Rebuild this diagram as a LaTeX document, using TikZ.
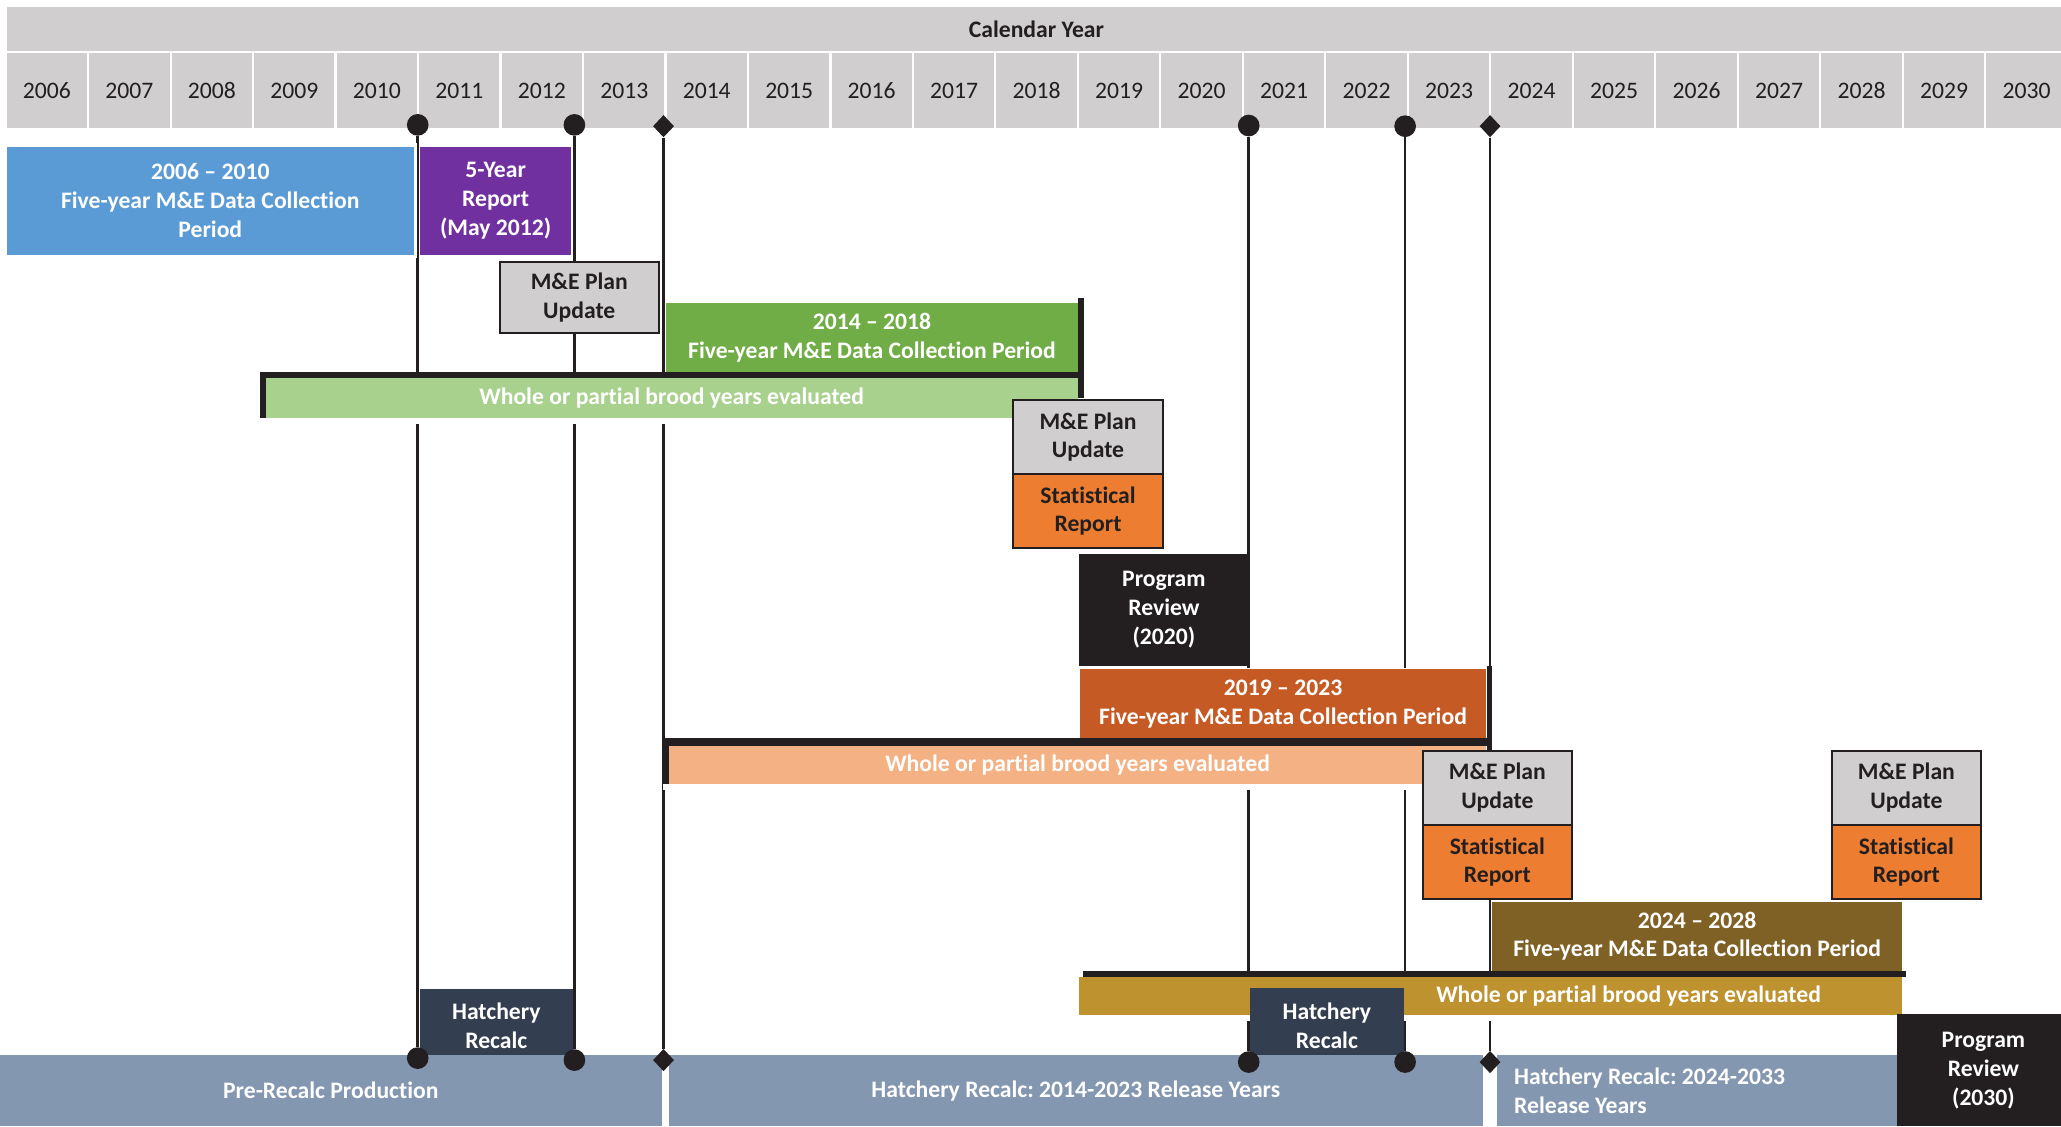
\documentclass[tikz,border=0pt]{standalone}
\usepackage{fontspec}
\setmainfont{Carlito}[Ligatures={TeX,NoCommon}]
\usetikzlibrary{shapes.geometric}
\pgfdeclarelayer{bg}\pgfdeclarelayer{fg}\pgfsetlayers{bg,main,fg}
\definecolor{ink}{HTML}{231F20}
\definecolor{hdr}{HTML}{D0CECE}
\definecolor{cblue}{HTML}{5B9BD5}
\definecolor{cpurple}{HTML}{7030A0}
\definecolor{cgreen}{HTML}{70AD47}
\definecolor{lgreen}{HTML}{A9D18E}
\definecolor{corange}{HTML}{ED7D31}
\definecolor{dorange}{HTML}{C55A24}
\definecolor{lorange}{HTML}{F4B183}
\definecolor{cbrown}{HTML}{7F6125}
\definecolor{lbrown}{HTML}{BF9230}
\definecolor{navy}{HTML}{333F50}
\definecolor{slate}{HTML}{8497B0}
\tikzset{
  corners/.style n args={4}{minimum width={#3-#1}, minimum height={#4-#2},
     at={({(#1+#3)/2},{(#2+#4)/2})}},
  txt/.style={font=\fontsize{18}{22}\selectfont\bfseries, align=center, inner sep=0pt, outer sep=0pt},
  fillbox/.style={txt, fill=#1, text=white},
  ruledbox/.style={txt, fill=#1, text=ink, draw=ink, line width=1.5pt},
  halo/.style={preaction={draw=white, line width=#1}},
  yearcell/.style={fill=hdr, inner sep=0pt, outer sep=0pt, text=ink, font=\fontsize{18}{22}\selectfont},
  vline/.style={draw=ink, line width=2pt},
  dot/.style={circle, fill=ink, inner sep=0pt, minimum size=16.5pt},
  gem/.style={diamond, fill=ink, inner sep=0pt, minimum width=16pt, minimum height=17pt},
  bracketbar/.style={fill=ink},
}
\begin{document}
\frenchspacing
\begin{tikzpicture}[x=1pt,y=-1pt]
\useasboundingbox (0,0) rectangle (1568,857);

% header
\node[yearcell, font=\fontsize{18}{22}\selectfont\bfseries, corners={5}{5}{1572}{38.8}] (cal) {Calendar Year};
\foreach \i in {0,...,24} {
  \pgfmathsetmacro\xa{5+62.76*\i}
  \pgfmathsetmacro\xb{\xa+61.2}
  \pgfmathtruncatemacro\yr{2006+\i}
  \node[yearcell, corners={\xa}{40.6}{\xb}{97.5}] (y\yr) {\yr};
}

% markers (top and bottom)
\begin{pgfonlayer}{fg}
\node[dot] (t11) at (317.8,95) {};
\node[dot] (t12) at (437,95) {};
\node[gem] (t14) at (504.8,96) {};
\node[dot] (t21) at (950,95.5) {};
\node[dot] (t23) at (1069,96) {};
\node[gem] (t24) at (1133.6,96) {};
\node[dot] (b11) at (317.8,805) {};
\node[dot] (b12) at (437,806.5) {};
\node[gem] (b14) at (504.8,806.5) {};
\node[dot] (b21) at (950,808) {};
\node[dot] (b23) at (1069,808) {};
\node[gem] (b24) at (1133.6,808) {};
\end{pgfonlayer}

% vertical connectors
\begin{pgfonlayer}{bg}
\foreach \a/\b in {t11/b11, t12/b12, t14/b14, t21/b21, t23/b23, t24/b24}
  \draw[vline] (\a) -- (\b);
\end{pgfonlayer}

% 2006-2010 period
\node[fillbox=cblue, halo=5pt, corners={5}{111.6}{315}{194}] (p1) {2006 – 2010\\Five-year M\&E Data Collection\\Period};
\node[fillbox=cpurple, halo=2pt, corners={319.5}{111.6}{434.6}{194}] (rep) {5-Year\\Report\\(May 2012)};
\node[ruledbox=hdr, corners={380.4}{199}{501}{253.6}] (me1) {M\&E Plan\\Update};

% 2014-2018 period
\node[fillbox=lgreen, halo=9pt, corners={202}{287.7}{820}{318}] (brood1) {Whole or partial brood years evaluated};
\node[fillbox=cgreen, halo=1pt, corners={506.8}{230.8}{820}{283}] (p2) {2014 – 2018\\Five-year M\&E Data Collection Period};
\fill[bracketbar] (198,283) rectangle (824.7,287.7);
\fill[bracketbar] (198,283) rectangle (202,318);
\fill[bracketbar] (820,226.5) rectangle (824.7,303);
\node[ruledbox=hdr, corners={771}{304.4}{884.5}{360.6}] (me2) {M\&E Plan\\Update};
\node[ruledbox=corange, corners={771}{360.6}{884.5}{417}] (st2) {Statistical\\Report};

% program review 2020
\node[fillbox=ink, corners={821}{421.5}{950}{506.7}] (pr1) {Program\\Review\\(2020)};

% 2019-2023 period
\node[fillbox=lorange, halo=9pt, corners={509}{567.3}{1130.6}{596.5}] (brood2) {Whole or partial brood years evaluated};
\node[fillbox=dorange, halo=2pt, corners={821.7}{509}{1130.6}{562}] (p3) {2019 – 2023\\Five-year M\&E Data Collection Period};
\fill[bracketbar] (504.5,561.7) rectangle (1135,567.3);
\fill[bracketbar] (504.5,561.7) rectangle (509,596.5);
\fill[bracketbar] (1131.5,506.7) rectangle (1135,570.6);
\node[ruledbox=hdr, corners={1082.3}{571}{1196}{627.7}] (me3) {M\&E Plan\\Update};
\node[ruledbox=corange, corners={1082.3}{627.7}{1196}{684}] (st3) {Statistical\\Report};
\node[ruledbox=hdr, corners={1393.7}{571}{1507}{627.7}] (me4) {M\&E Plan\\Update};
\node[ruledbox=corange, corners={1393.7}{627.7}{1507}{684}] (st4) {Statistical\\Report};

% 2024-2028 period
\node[fillbox=lbrown, halo=9pt, corners={821}{743}{1447}{772}] (brood3) {\hspace*{210pt}Whole or partial brood years evaluated};
\node[fillbox=cbrown, corners={1135.4}{686}{1447}{738.5}] (p4) {2024 – 2028\\Five-year M\&E Data Collection Period};
\fill[bracketbar] (824,738.5) rectangle (1450,743);

% hatchery recalc events
\node[fillbox=navy, corners={319.2}{752.5}{436}{808.5}] (hr1) {Hatchery\\Recalc};
\node[fillbox=navy, corners={951}{752}{1068}{808.5}] (hr2) {Hatchery\\Recalc};

% bottom production bars
\node[fillbox=slate, corners={0}{802.7}{503.4}{857}] (pre) {Pre-Recalc Production};
\node[fillbox=slate, corners={509}{803}{1128}{857}] (rel1) {Hatchery Recalc: 2014-2023 Release Years};
\node[fillbox=slate, corners={1138.6}{802.6}{1443}{857}] (rel2) {\makebox[277.6pt][l]{Hatchery Recalc: 2024-2033}\\\makebox[277.6pt][l]{Release Years}};
\node[fillbox=ink, corners={1443}{771.7}{1575}{857}] (pr2) {Program\\Review\\(2030)};
\end{tikzpicture}
\end{document}
